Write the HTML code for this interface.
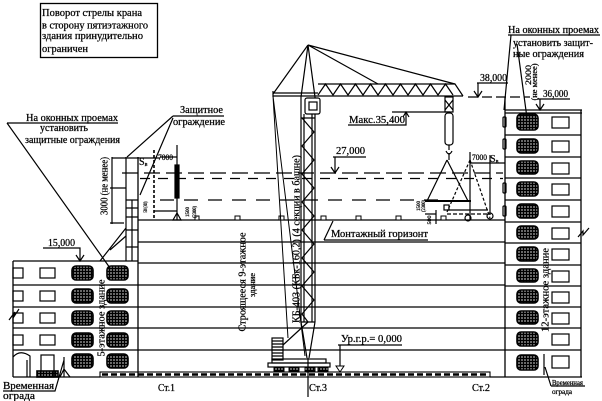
<!DOCTYPE html>
<html><head><meta charset="utf-8"><style>
html,body{margin:0;padding:0;background:#fff;}
svg{display:block}
text{font-family:"Liberation Serif","DejaVu Serif",serif;fill:#000;stroke:#000;stroke-width:0.25}
</style></head><body>
<svg width="602" height="401" viewBox="0 0 602 401" xmlns="http://www.w3.org/2000/svg">
<defs>
<pattern id="h" width="3" height="3" patternUnits="userSpaceOnUse"><path d="M0 1.5H3M1.5 0V3" stroke="#000" stroke-width="1.7"/></pattern>
</defs>
<rect width="602" height="401" fill="#fff"/>

<!-- top-left note box -->
<rect x="40.5" y="3.5" width="117" height="54" fill="none" stroke="#000" stroke-width="1.3"/>
<text x="42" y="16" font-size="10.5" textLength="100" lengthAdjust="spacingAndGlyphs">Поворот стрелы крана</text>
<text x="42" y="28.5" font-size="10.5" textLength="106" lengthAdjust="spacingAndGlyphs">в сторону пятиэтажного</text>
<text x="42" y="39" font-size="10.5" textLength="101" lengthAdjust="spacingAndGlyphs">здания принудительно</text>
<text x="42" y="52" font-size="10.5" textLength="46" lengthAdjust="spacingAndGlyphs">ограничен</text>

<g fill="none" stroke="#000" stroke-width="1.3">
<!-- 5-storey building -->
<path d="M13 261 H138 M13 261 V377 M13 377 H100"/>
<!-- 9-storey building floors -->
<path d="M138 157 V377 M138 220 H505 M138 242 H505 M138 263 H505 M13 285 H505 M13 307 H505 M13 328 H505 M13 350 H505"/>
<!-- right 12-storey building -->
<path d="M505 97 V377 M581 110 V377 M505 110 H582 M505 113 H582 M505 377 H582 M490 377 H505"/>
<path d="M505 135 H581 M505 157 H581 M505 178 H581 M505 200 H581 M505 222 H581 M505 243 H581 M505 265 H581 M505 286 H581 M505 307 H581 M505 328 H581 M505 350 H581"/>
</g>

<!-- left building windows -->
<g fill="none" stroke="#000" stroke-width="1.2">
<rect x="13" y="268" width="10" height="10"/><rect x="13" y="291" width="10" height="10"/><rect x="13" y="313" width="10" height="10"/><rect x="13" y="335" width="10" height="10"/>
<rect x="40" y="268" width="15" height="10"/><rect x="40" y="291" width="15" height="10"/><rect x="40" y="313" width="15" height="10"/><rect x="40" y="335" width="15" height="10"/>
<rect x="41" y="355" width="13" height="22"/>
<path d="M13 357 Q20 349 30 356 V377 M27 360 V377"/>
</g>
<g fill="url(#h)" stroke="#000" stroke-width="1.6">
<rect x="72" y="266" width="21" height="14" rx="4"/><rect x="72" y="289" width="21" height="14" rx="4"/><rect x="72" y="311" width="21" height="14" rx="4"/><rect x="72" y="333" width="21" height="14" rx="4"/><rect x="72" y="354" width="21" height="14" rx="4"/>
<rect x="107" y="266" width="21" height="14" rx="4"/><rect x="107" y="289" width="21" height="14" rx="4"/><rect x="107" y="311" width="21" height="14" rx="4"/><rect x="107" y="333" width="21" height="14" rx="4"/><rect x="107" y="354" width="21" height="14" rx="4"/>
<rect x="37" y="371" width="21" height="6" rx="0"/>
</g>

<!-- right building windows -->
<g fill="url(#h)" stroke="#000" stroke-width="1.6">
<rect x="517" y="114" width="21" height="16" rx="4"/><rect x="517" y="139" width="21" height="14" rx="4"/><rect x="517" y="161" width="21" height="13" rx="4"/><rect x="517" y="182" width="21" height="14" rx="4"/><rect x="517" y="204" width="21" height="14" rx="4"/><rect x="517" y="226" width="21" height="13" rx="4"/><rect x="517" y="247" width="21" height="14" rx="4"/><rect x="517" y="269" width="21" height="13" rx="4"/><rect x="517" y="290" width="21" height="13" rx="4"/><rect x="517" y="311" width="21" height="13" rx="4"/><rect x="517" y="332" width="21" height="14" rx="4"/><rect x="517" y="355" width="21" height="15" rx="4"/>
</g>
<g fill="none" stroke="#000" stroke-width="1.2">
<rect x="552" y="117" width="17" height="11"/><rect x="552" y="141" width="17" height="11"/><rect x="552" y="163" width="17" height="11"/><rect x="552" y="184" width="17" height="11"/><rect x="552" y="206" width="17" height="11"/><rect x="552" y="228" width="17" height="11"/><rect x="552" y="249" width="17" height="11"/><rect x="552" y="271" width="17" height="11"/><rect x="552" y="292" width="17" height="11"/><rect x="552" y="313" width="17" height="11"/><rect x="552" y="334" width="17" height="11"/><rect x="552" y="356" width="17" height="12"/>
<rect x="503" y="117" width="3" height="10" rx="1"/><rect x="503" y="139" width="3" height="10" rx="1"/><rect x="503" y="183" width="3" height="10" rx="1"/><rect x="503" y="206" width="3" height="10" rx="1"/>
<!-- break marks -->
<path d="M578 237 L583 231 L583 235 L589 228"/>
<path d="M9 320 L15 312 L13 318 L19 309"/>
</g>

<!-- roof markers on montage horizon -->
<g fill="#fff" stroke="#000" stroke-width="1">
<rect x="195" y="216" width="4" height="4"/><rect x="235" y="216" width="5" height="4"/><rect x="279" y="216" width="5" height="4"/><rect x="321" y="216" width="5" height="4"/><rect x="356" y="216" width="5" height="4"/><rect x="396" y="216" width="5" height="4"/><rect x="441" y="216" width="5" height="4"/>
</g>

<!-- dashed levels -->
<g fill="none" stroke="#000" stroke-width="1.2">
<path d="M122 173 H503" stroke-dasharray="16 6"/>
<path d="M140 178.5 H503" stroke-dasharray="10 8"/>
<path d="M160 200 H445" stroke-dasharray="14 10"/>
<path d="M468 97 H530" stroke-dasharray="10 4"/>
</g>

<!-- crane -->
<g fill="none" stroke="#000" stroke-width="1.2">
<path d="M308 45 L273 94 M308 45 L301 97 M308 45 L315 97 M308 45 L378 84 M308 45 L455 84"/>
<path d="M273 93 H318 M273 96 H463 M273 91 V97"/>
<path d="M318 84 H455 L463 96"/>
<polyline points="318,95 325.5,84 333,95 340.5,84 348,95 355.5,84 363,95 370.5,84 378,95 385.5,84 393,95 400.5,84 408,95 415.5,84 423,95 430.5,84 438,95 445.5,84 453,95"/>
<path d="M301 97 V322 M315 97 V322 M304 114 V322 M312 114 V322 M301 322 H315 M301 118 H315"/>
<polyline points="302,118 314,132 302,146 314,160 302,174 314,188 302,202 314,216 302,230 314,244 302,258 314,272 302,286 314,300 302,314 308,322"/>
<rect x="305" y="98" width="15" height="16" rx="2" fill="#fff"/>
<rect x="309" y="102" width="8" height="8"/>
<path d="M301 322 L307 358 M315 322 L309 358 M283 345 L308 322"/>
<path d="M273 96 L288 338 M273 96 L305 356" stroke-width="1"/>
<rect x="272" y="338" width="11" height="22"/>
<path d="M272 341 H283 M272 344 H283 M272 347 H283 M272 350 H283 M272 353 H283 M272 356 H283"/>
<rect x="272" y="359" width="54" height="4"/>
<rect x="268" y="363" width="62" height="4"/>
<path d="M308 358 V397"/>
</g>
<g fill="url(#h)" stroke="#000" stroke-width="1">
<rect x="274" y="367" width="10" height="4"/><rect x="289" y="367" width="10" height="4"/><rect x="305" y="367" width="10" height="4"/><rect x="318" y="367" width="10" height="4"/>
</g>

<!-- rails -->
<rect x="100" y="372" width="390" height="5" fill="none" stroke="#000" stroke-width="1.1"/>
<path d="M102 374.5 H488" stroke="#000" stroke-width="2.4" stroke-dasharray="6 3"/>

<!-- hook and load (right) -->
<g fill="none" stroke="#000" stroke-width="1.2">
<rect x="445" y="97" width="8" height="15"/>
<path d="M445 100 L453 110 M453 100 L445 110"/>
<rect x="445" y="113" width="8" height="32" rx="3"/>
<path d="M449 145 V150 M446 151 Q449 157 452 151 M449 153 V160"/>
<path d="M447 160 L427 201 M447 160 L468 201"/>
<path d="M425 201 H471" stroke-width="2"/>
<path d="M470 152 V220 M490 155 V215 M470 163 H505"/>
<path d="M470 160 L447 212 M470 160 L490 218" stroke-dasharray="3 2"/>
<path d="M447 210 H488"/>
<path d="M447 214 H488" stroke-dasharray="4 2"/>
<circle cx="468" cy="218" r="3"/><circle cx="490" cy="216" r="3"/>
<rect x="444" y="205" width="5" height="5"/>
<path d="M425 214 H436 M436 210 V224"/>
</g>

<!-- left load & scaffold -->
<g fill="none" stroke="#000" stroke-width="1.2">
<path d="M177 145 V220 M160 157 H177"/>
<rect x="175" y="165" width="4" height="33" fill="#000"/>
<path d="M173 220 L177 213 L181 220 Z"/>
<path d="M154 150 V218" stroke-dasharray="3 2" stroke-width="1.6"/>
<path d="M154 211 H177"/>
<path d="M126 157 V261 M132 200 V261"/>
<path d="M126 158 H160 M126 200 H138 M126 208 H138 M126 217 H138 M126 230 H138 M126 247 H138"/>
<path d="M100 261 L126 228 M110 250 L126 236"/>
<path d="M112 157 V224 M112 158 H126 M110 188 H126 M110 223 H124"/>
</g>

<!-- leaders and level marks -->
<g fill="none" stroke="#000" stroke-width="1.2">
<path d="M7 123 H118 M7 123 L110 268"/>
<path d="M173 116 H224 M173 116 L127 157 M173 118 L140 195"/>
<path d="M333 157 H366 M335 157 V173 M331 167 L335 173 L339 167"/>
<path d="M477 83 H508 M478 83 V97 M474 91 L478 97 L482 91"/>
<path d="M537 99 H570 M540 99 V110 M536 104 L540 110 L544 104"/>
<path d="M43 248 H80 V261 M76 255 L80 261 L84 255"/>
<path d="M348 125 H406 V112 M403 117 L406 112 L409 117 M392 112 H450"/>
<path d="M338 345 H402 M340 345 V372"/>
<path d="M324 240 H428 M324 240 L333 221"/>
<path d="M3 391 H55 L64 360 M64 357 V377 M60 377 L64 369 L70 377"/>
<path d="M551 386 H585 M551 386 L545 367 M544 354 V375"/>
<path d="M508 35 H600 M511 35 L504 110 M517 44 L527 118"/>
</g>
<path d="M336 366 L344 366 L340 372 Z" fill="#fff" stroke="#000" stroke-width="1"/>

<!-- labels -->
<g font-size="10">
<text x="26" y="121" textLength="92" lengthAdjust="spacingAndGlyphs">На оконных проемах</text>
<text x="40" y="131" textLength="48" lengthAdjust="spacingAndGlyphs">установить</text>
<text x="25" y="143" textLength="95" lengthAdjust="spacingAndGlyphs">защитные ограждения</text>
<text x="180" y="113" textLength="43" lengthAdjust="spacingAndGlyphs">Защитное</text>
<text x="173" y="125" textLength="52" lengthAdjust="spacingAndGlyphs">ограждение</text>
<text x="508" y="33" textLength="91" lengthAdjust="spacingAndGlyphs">На оконных проемах</text>
<text x="513" y="46" textLength="80" lengthAdjust="spacingAndGlyphs">установить защит-</text>
<text x="513" y="57" textLength="71" lengthAdjust="spacingAndGlyphs">ные ограждения</text>
<text x="480" y="81" textLength="27" lengthAdjust="spacingAndGlyphs">38,000</text>
<text x="543" y="97" textLength="25" lengthAdjust="spacingAndGlyphs">36,000</text>
<text x="349" y="123" textLength="56" lengthAdjust="spacingAndGlyphs">Макс.35,400</text>
<text x="336" y="154" textLength="29" lengthAdjust="spacingAndGlyphs">27,000</text>
<text x="48" y="246" textLength="27" lengthAdjust="spacingAndGlyphs">15,000</text>
<text x="331" y="237" textLength="97" lengthAdjust="spacingAndGlyphs">Монтажный горизонт</text>
<text x="341" y="342" textLength="61" lengthAdjust="spacingAndGlyphs">Ур.г.р.= 0,000</text>
<text x="158" y="391" textLength="17" lengthAdjust="spacingAndGlyphs">Ст.1</text>
<text x="309" y="391" textLength="18" lengthAdjust="spacingAndGlyphs">Ст.3</text>
<text x="472" y="391" textLength="18" lengthAdjust="spacingAndGlyphs">Ст.2</text>
<text x="3" y="389" textLength="51" lengthAdjust="spacingAndGlyphs">Временная</text>
<text x="3" y="399" textLength="32" lengthAdjust="spacingAndGlyphs">ограда</text>
</g>
<text x="552" y="385" font-size="7" textLength="31" lengthAdjust="spacingAndGlyphs">Временная</text>
<text x="552" y="394" font-size="7" textLength="20" lengthAdjust="spacingAndGlyphs">ограда</text>
<text x="158" y="160" font-size="8" textLength="15" lengthAdjust="spacingAndGlyphs">7000</text>
<text x="139" y="165" font-size="10">S<tspan font-size="6" dy="1">в</tspan></text>
<text x="472" y="160" font-size="8" textLength="15" lengthAdjust="spacingAndGlyphs">7000</text>
<text x="490" y="162" font-size="10">S<tspan font-size="6" dy="1">в</tspan></text>

<!-- rotated labels -->
<g font-size="10" text-anchor="middle">
<text transform="translate(101,318) rotate(-90)" y="3.5" textLength="77" lengthAdjust="spacingAndGlyphs">5-этажное здание</text>
<text transform="translate(242,282) rotate(-90)" y="3.5" textLength="99" lengthAdjust="spacingAndGlyphs">Строящееся 9-этажное</text>
<text transform="translate(252,285) rotate(-90)" y="3" font-size="8" textLength="24" lengthAdjust="spacingAndGlyphs">здание</text>
<text transform="translate(296,239) rotate(-90)" y="3.5" textLength="168" lengthAdjust="spacingAndGlyphs">КБ-403 (КБк-160,2) (4 секции в башне)</text>
<text transform="translate(545,290) rotate(-90)" y="3.5" textLength="84" lengthAdjust="spacingAndGlyphs">12-этажное здание</text>
<text transform="translate(104,186) rotate(-90)" y="3.5" textLength="58" lengthAdjust="spacingAndGlyphs">3000 (не менее)</text>
<text transform="translate(528,75) rotate(-90)" y="3" font-size="8" textLength="20" lengthAdjust="spacingAndGlyphs">2000</text>
<text transform="translate(534,82) rotate(-90)" y="3" font-size="8" textLength="37" lengthAdjust="spacingAndGlyphs">(не менее)</text>
<text transform="translate(145,207) rotate(-90)" y="2" font-size="5" textLength="11" lengthAdjust="spacingAndGlyphs">500 (300)</text>
<text transform="translate(187,212) rotate(-90)" y="2" font-size="5" textLength="10" lengthAdjust="spacingAndGlyphs">1500</text>
<text transform="translate(194,212) rotate(-90)" y="2" font-size="5" textLength="12" lengthAdjust="spacingAndGlyphs">(2300)</text>
<text transform="translate(418,206) rotate(-90)" y="2" font-size="5" textLength="10" lengthAdjust="spacingAndGlyphs">1500</text>
<text transform="translate(423,206) rotate(-90)" y="2" font-size="5" textLength="12" lengthAdjust="spacingAndGlyphs">(2300)</text>
<text transform="translate(429,220) rotate(-90)" y="2" font-size="5" textLength="9" lengthAdjust="spacingAndGlyphs">500</text>
</g>
</svg>
</body></html>
